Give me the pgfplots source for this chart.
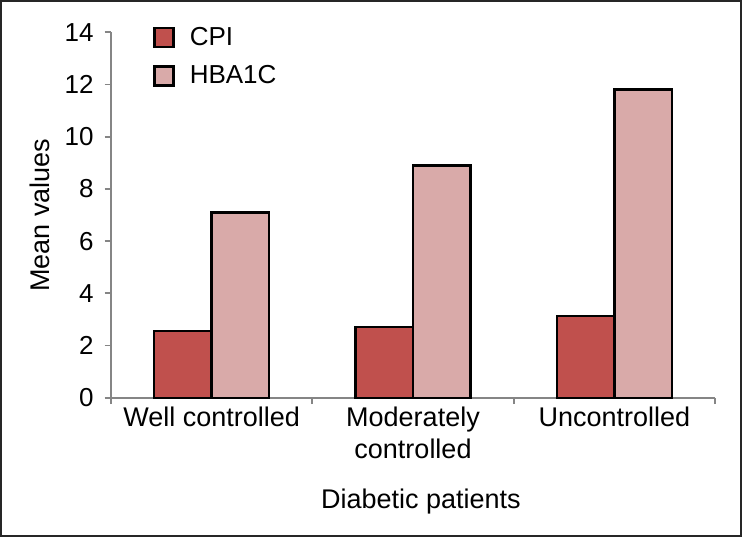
\documentclass[border=0pt]{standalone}
\usepackage{pgfplots}
\pgfplotsset{compat=1.18}
\usepackage{fontspec}
\setmainfont{Liberation Sans}
\definecolor{cpired}{HTML}{C0504D}
\definecolor{hbapink}{HTML}{D9AAA9}
\definecolor{axgray}{HTML}{858585}

\begin{document}
\begin{tikzpicture}
\begin{axis}[
    scale only axis,
    width=302pt, height=182.7pt,
    ybar=0pt, bar width=28.75pt,
    xmin=-0.5, xmax=2.5,
    ymin=0, ymax=14,
    ytick={0,2,...,14},
    xtick={-0.5,0.5,1.5,2.5},
    xticklabels={},
    extra x ticks={0,1,2},
    extra x tick labels={Well controlled,{Moderately\\controlled},Uncontrolled},
    extra x tick style={major tick length=0pt},
    axis x line=bottom, axis y line=left,
    axis line style={-, axgray, line width=0.85pt},
    tick style={axgray, line width=0.85pt},
    tick align=outside,
    major tick length=3.2pt,
    /pgf/number format/assume math mode=true,
    yticklabel style={font=\fontsize{13pt}{14pt}\selectfont, xshift=-2pt},
    xticklabel style={font=\fontsize{13.5pt}{16pt}\selectfont, align=center, yshift=-1pt},
    ylabel={Mean values},
    ylabel style={font=\fontsize{13.5pt}{16pt}\selectfont, at={(axis description cs:-0.1175,0.5)}, anchor=center},
    xlabel={Diabetic patients},
    xlabel style={font=\fontsize{13.5pt}{16pt}\selectfont, at={(axis description cs:0.513,-0.283)}, anchor=center},
    legend style={at={(axis description cs:0.0695,1.016)}, anchor=north west, draw=none, fill=none,
        inner sep=0pt, row sep=8.5pt, font=\fontsize{13pt}{15pt}\selectfont,
        nodes={inner sep=0pt, anchor=west}},
    legend cell align=left,
    legend image code/.code={\draw[#1, line width=1.2pt] (0pt,-4.75pt) rectangle (9.5pt,4.75pt);},
    clip=false,
]
\addplot[draw=black, line width=1.2pt, fill=cpired] coordinates {(0,2.56) (1,2.70) (2,3.14)};
\addlegendentry{\hspace{7.5pt}CPI}
\addplot[draw=black, line width=1.2pt, fill=hbapink] coordinates {(0,7.10) (1,8.90) (2,11.81)};
\addlegendentry{\hspace{7.5pt}HBA1C}
\draw[line width=1pt, black!85] ([xshift=-55pt,yshift=-69.15pt]rel axis cs:0,0) rectangle ([xshift=315pt,yshift=198.35pt]rel axis cs:0,0);
\end{axis}
\end{tikzpicture}
\end{document}
